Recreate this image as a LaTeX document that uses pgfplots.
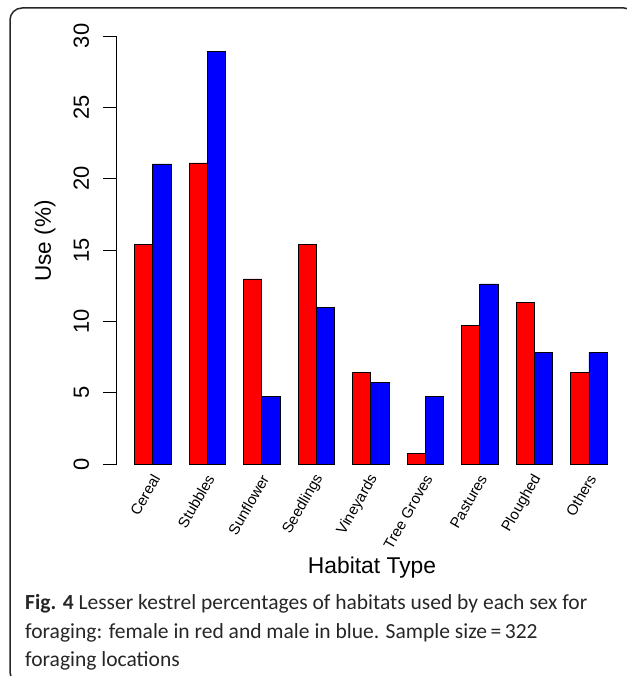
\documentclass[border=0pt]{standalone}
\usepackage{pgfplots}
\pgfplotsset{compat=1.18}
\usepackage{fontspec}
\setmainfont{Liberation Sans}
\newfontfamily\capfont{Carlito}
\definecolor{rbar}{HTML}{FF0000}
\definecolor{bbar}{HTML}{0000FF}
\begin{document}
\begin{tikzpicture}
\useasboundingbox (0bp,0bp) rectangle (627bp,676bp);
\clip (0bp,0bp) rectangle (627bp,676bp);
\draw[line width=1.5bp, black!85, rounded corners=12bp] (10bp,668bp) rectangle (636bp,-8bp);
\begin{axis}[
  at={(116.5bp,212bp)}, anchor=south west,
  scale only axis, width=508.8bp, height=428bp,
  xmin=0, xmax=28, ymin=0, ymax=30,
  axis x line*=bottom, axis y line*=left,
  x axis line style={draw=none},
  y axis line style={-, line width=0.9bp},
  xtick={2,5,8,11,14,17,20,23,26},
  xticklabels={Cereal,Stubbles,Sunflower,Seedlings,Vineyards,Tree Groves,Pastures,Ploughed,Others},
  major x tick style={draw=none},
  xticklabel style={xshift=5bp, yshift=4bp, rotate=60, anchor=east, font=\fontsize{15}{18}\selectfont},
  ytick={0,5,10,15,20,25,30},
  yticklabel style={rotate=90, anchor=south, font=\fontsize{22}{26}\selectfont},
  yticklabel shift=11bp,
  /pgf/number format/assume math mode=true,
  tick align=outside, major tick length=13bp,
  major y tick style={line width=0.9bp, black},
  clip=false,
]
\addplot[ybar, bar width=1, bar shift=0pt, fill=rbar, draw=black, line width=0.9bp] coordinates {
(1.5,15.38) (4.5,21.10) (7.5,12.97) (10.5,15.38) (13.5,6.43) (16.5,0.77) (19.5,9.70) (22.5,11.33) (25.5,6.43)};
\addplot[ybar, bar width=1, bar shift=0pt, fill=bbar, draw=black, line width=0.9bp] coordinates {
(2.5,21.03) (5.5,28.93) (8.5,4.70) (11.5,10.98) (14.5,5.73) (17.5,4.70) (20.5,12.62) (23.5,7.83) (26.5,7.83)};
\end{axis}
\node[rotate=90, font=\fontsize{22.6}{27}\selectfont] at (45bp,435bp) {Use (\%)};
\node[font=\fontsize{22.9}{27}\selectfont] at (372bp,108bp) {Habitat Type};
\begin{scope}[every node/.style={anchor=base west, inner sep=0pt, text=black!85, font=\capfont\fontsize{21.6}{27}\selectfont}]
\node at (25bp,66bp) {\textbf{Fig. 4} Lesser kestrel percentages of habitats used by each sex for};
\node at (25bp,38bp) {foraging: female in red and male in blue. Sample size\,=\,322};
\node at (25bp,10bp) {foraging locations};
\end{scope}
\end{tikzpicture}
\end{document}
